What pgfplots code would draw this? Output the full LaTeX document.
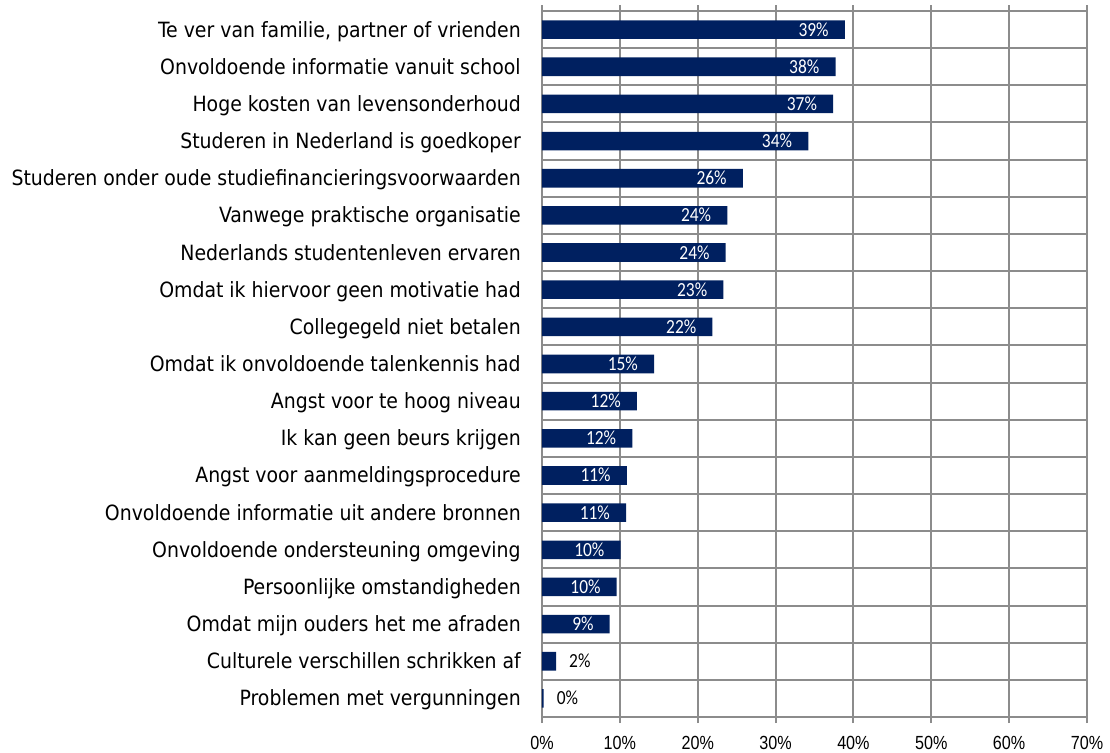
\documentclass[border=0pt]{standalone}
\usepackage{fontspec}
\setmainfont{DejaVu Sans Condensed}
\newfontfamily\catfont{DejaVu Sans Condensed}
\newfontfamily\numfont[FakeStretch=0.87]{Carlito}
\newfontfamily\tickfont[FakeStretch=0.85]{Liberation Sans}
\usepackage{pgfplots}
\usepackage{pgfplotstable}
\pgfplotsset{compat=1.18}
\definecolor{navy}{RGB}{0,32,96}
\definecolor{gridgray}{RGB}{140,140,140}

\pgfplotstableread{
i v
0 38.9
1 37.7
2 37.4
3 34.2
4 25.8
5 23.8
6 23.6
7 23.3
8 21.9
9 14.4
10 12.2
11 11.6
12 10.9
13 10.8
14 10.1
15 9.6
16 8.7
17 1.8
18 0.2
}\bars

\pgfplotstableread{
i v lab
0 38.9 39
1 37.7 38
2 37.4 37
3 34.2 34
4 25.8 26
5 23.8 24
6 23.6 24
7 23.3 23
8 21.9 22
9 14.4 15
10 12.2 12
11 11.6 12
12 10.9 11
13 10.8 11
14 10.1 10
15 9.6 10
16 8.7 9
}\insidelabels

\pgfplotstableread{
i v lab
17 1.8 2
18 0.2 0
}\outsidelabels

\begin{document}
\begin{tikzpicture}
\begin{axis}[
  at={(0,0)}, anchor=south west,
  scale only axis, width=545bp, height=706bp,
  xmin=0, xmax=70, ymin=-0.5, ymax=18.5, y dir=reverse,
  xtick={0,10,...,70},
  xticklabels={0\%,10\%,20\%,30\%,40\%,50\%,60\%,70\%},
  xticklabel style={font=\tickfont\fontsize{19bp}{22bp}\selectfont, anchor=base, inner sep=0pt, yshift=-26bp},
  ytick={0,...,18},
  yticklabels={
    {Te ver van familie, partner of vrienden},
    {Onvoldoende informatie vanuit school},
    {Hoge kosten van levensonderhoud},
    {Studeren in Nederland is goedkoper},
    {Studeren onder oude studiefinancieringsvoorwaarden},
    {Vanwege praktische organisatie},
    {Nederlands studentenleven ervaren},
    {Omdat ik hiervoor geen motivatie had},
    {Collegegeld niet betalen},
    {Omdat ik onvoldoende talenkennis had},
    {Angst voor te hoog niveau},
    {Ik kan geen beurs krijgen},
    {Angst voor aanmeldingsprocedure},
    {Onvoldoende informatie uit andere bronnen},
    {Onvoldoende ondersteuning omgeving\hspace{7bp}},
    {Persoonlijke omstandigheden},
    {Omdat mijn ouders het me afraden},
    {Culturele verschillen schrikken af},
    {Problemen met vergunningen}},
  yticklabel style={font=\catfont\fontsize{21bp}{25bp}\selectfont, anchor=base east, inner sep=0pt, xshift=-15bp, yshift=-7.5bp},
  minor ytick={0.5,1.5,...,17.5},
  xmajorgrids, yminorgrids,
  major grid style={gridgray, line width=2bp},
  minor grid style={gridgray, line width=2bp},
  axis line style={gridgray, line width=2bp},
  tick align=outside,
  major tick length=6bp,
  minor tick length=0pt,
  xtick style={gridgray, line width=2bp},
  ytick style={draw=none},
  clip=false,
]
\addplot[xbar, bar width=0.5, fill=navy, draw=none] table[x=v, y=i] {\bars};
\addplot[draw=none, mark=none, nodes near coords={\pgfplotspointmeta\%}, point meta=explicit symbolic,
  every node near coord/.style={anchor=base east, inner sep=0pt, xshift=-16bp, yshift=-6.5bp, text=white, font=\numfont\fontsize{20bp}{23bp}\selectfont}]
  table[x=v, y=i, meta=lab] {\insidelabels};
\addplot[draw=none, mark=none, nodes near coords={\pgfplotspointmeta\%}, point meta=explicit symbolic,
  every node near coord/.style={anchor=base west, inner sep=0pt, xshift=13bp, yshift=-6.5bp, text=black, font=\numfont\fontsize{20bp}{23bp}\selectfont}]
  table[x=v, y=i, meta=lab] {\outsidelabels};
\end{axis}
\pgfresetboundingbox
\path[use as bounding box] (-542bp,-36bp) rectangle (568bp,717bp);
\end{tikzpicture}
\end{document}
